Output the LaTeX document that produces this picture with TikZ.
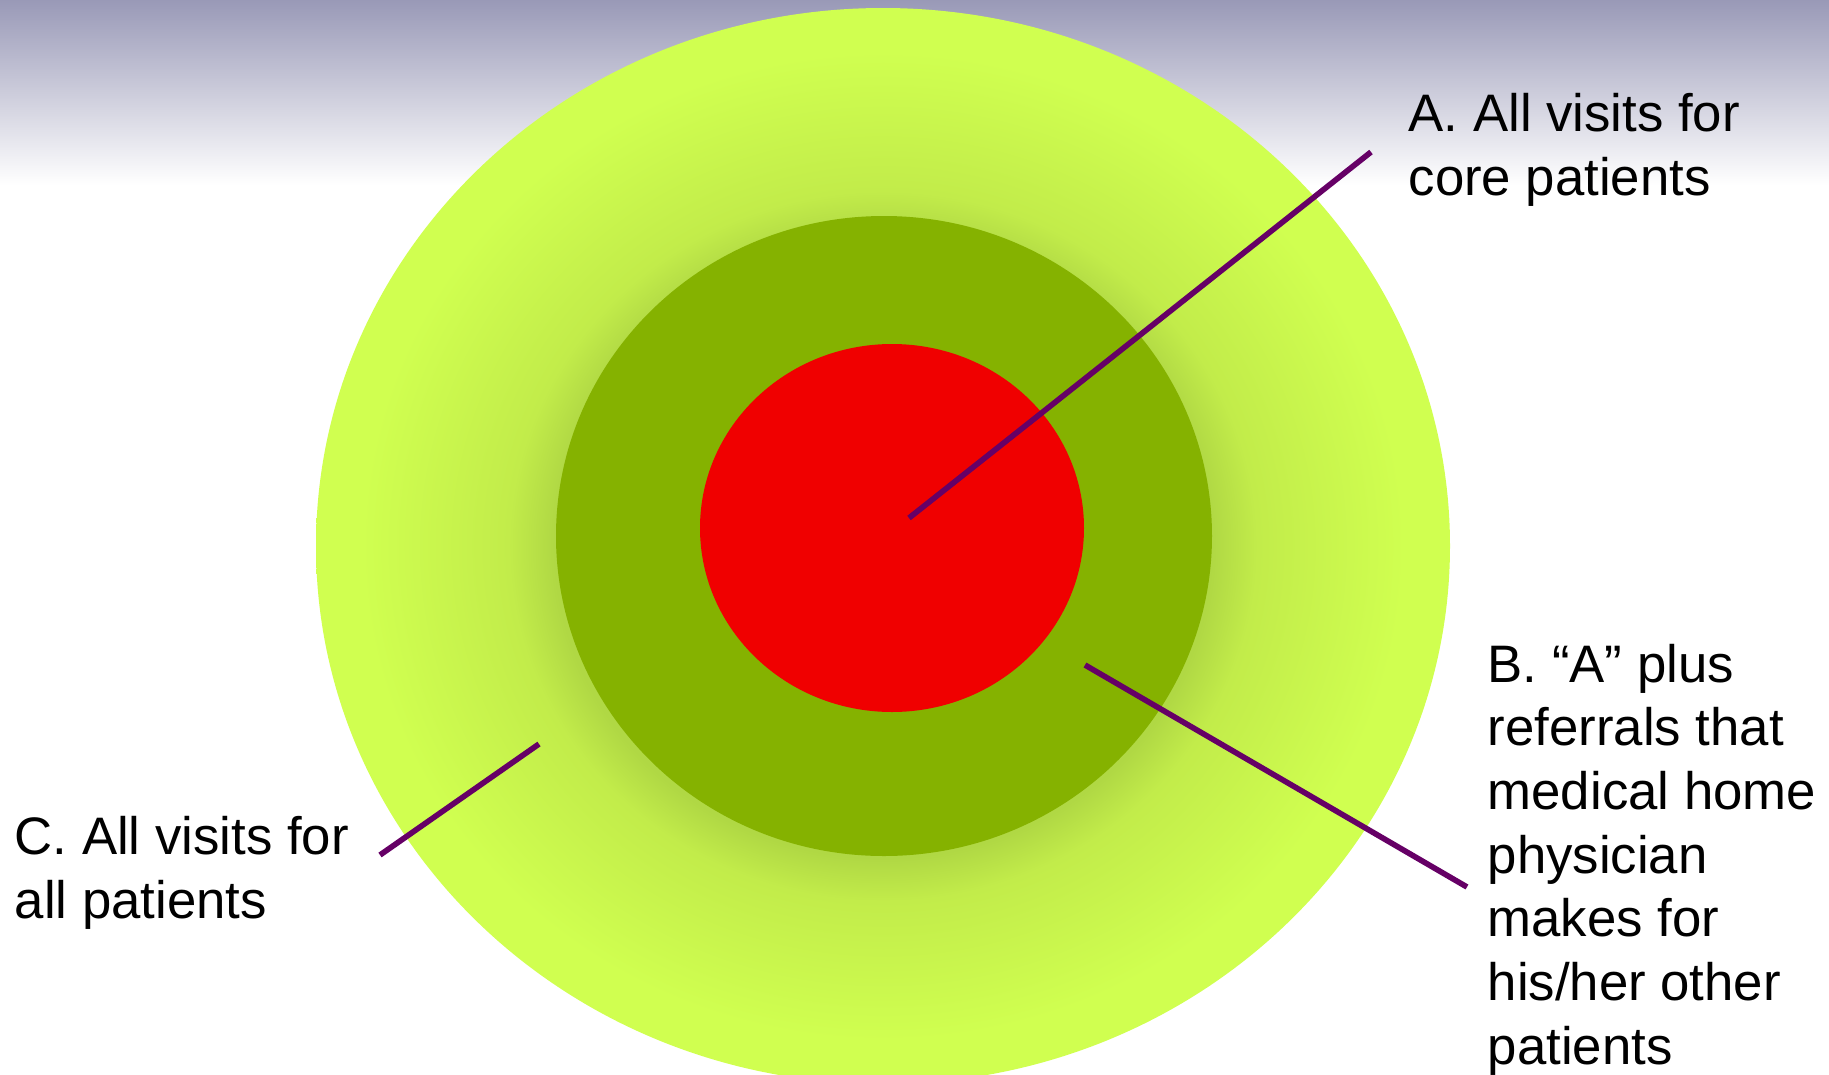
\documentclass[tikz,border=0pt]{standalone}
\usepackage{fontspec}
\setmainfont{Liberation Sans}

\definecolor{skytop}{RGB}{153,153,183}
\definecolor{skymid}{RGB}{222,222,232}
\definecolor{limeouter}{RGB}{208,255,80}
\definecolor{halomid}{RGB}{194,236,74}
\definecolor{halodark}{RGB}{176,216,68}
\definecolor{midgreen}{RGB}{133,178,0}
\definecolor{corered}{RGB}{240,0,0}
\definecolor{leader}{RGB}{102,0,102}

\pgfdeclareradialshading{halo}{\pgfpoint{0bp}{0bp}}{color(0bp)=(halodark);
  color(14.5bp)=(halodark); color(16.5bp)=(halomid); color(23bp)=(limeouter);
  color(50bp)=(limeouter)}

\begin{document}
\begin{tikzpicture}[x=0.01cm,y=-0.01cm,
  every node/.style={font=\fontsize{15}{18.1}\selectfont},
  lbl/.style={anchor=base west,inner sep=0pt,align=left},
  pointer/.style={draw=leader,line width=1.6pt}]
\useasboundingbox (0,0) rectangle (1829,1075);
% backdrop
\fill[white] (0,0) rectangle (1829,1075);
\shade[top color=skytop,middle color=skymid,bottom color=white] (0,0) rectangle (1829,185);
% the three rings
\shade[shading=halo] (883,546) ellipse [x radius=567, y radius=538];
\fill[midgreen] (884,536) ellipse [x radius=328, y radius=320];
\fill[corered] (892,528) ellipse [x radius=192, y radius=184];
% leader ends
\coordinate (a-in) at (909,518);
\coordinate (a-out) at (1371,152);
\coordinate (b-in) at (1085,665);
\coordinate (b-out) at (1467,887);
\coordinate (c-in) at (539,744);
\coordinate (c-out) at (380,855);
% labels (placed at the baseline of their last line)
\node[lbl] (coreA) at (1408,195) {A. All visits for\\core patients};
\node[lbl] (refB) at (1487,1064) {B. “A” plus\\referrals that\\medical home\\physician\\makes for\\his/her other\\patients};
\node[lbl] (allC) at (14,918) {C. All visits for\\all patients};
\draw[pointer] (a-in) -- (a-out);
\draw[pointer] (b-in) -- (b-out);
\draw[pointer] (c-in) -- (c-out);
\end{tikzpicture}
\end{document}
